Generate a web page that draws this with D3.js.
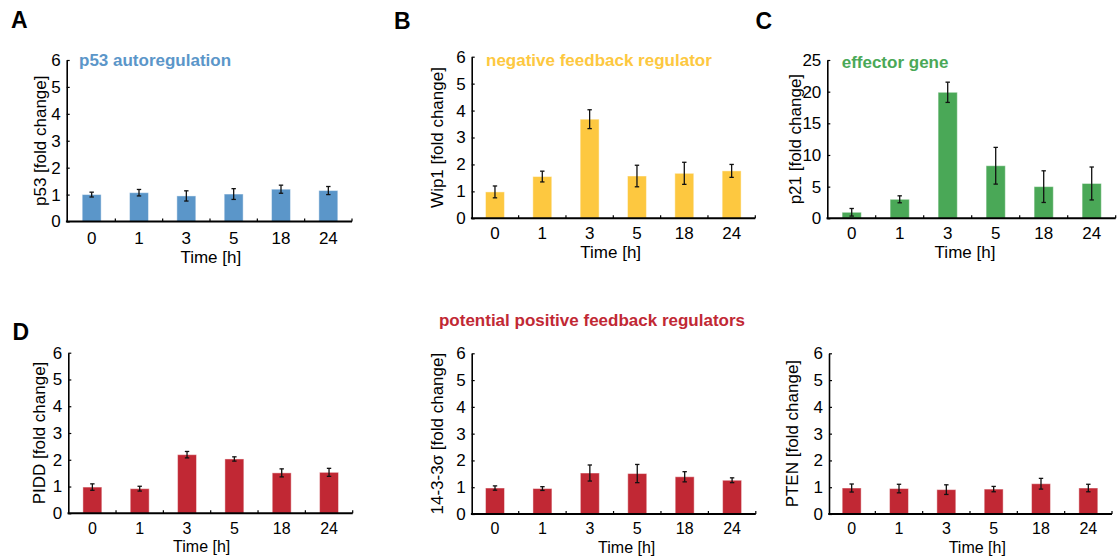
<!DOCTYPE html>
<html>
<head>
<meta charset="utf-8">
<script src="https://cdn.jsdelivr.net/npm/d3@7"></script>
<style>
  html, body { margin: 0; padding: 0; background: #fff; }
  svg { display: block; font-family: "Liberation Sans", Arial, Helvetica, sans-serif; }
</style>
</head>
<body>
<svg id="chart" width="1117" height="558"></svg>
<script>
// ---- data ----
const times = ["0", "1", "3", "5", "18", "24"];

const p53Mean = [1.0, 1.07, 0.95, 1.02, 1.2, 1.15];
const p53Err  = [0.09, 0.12, 0.19, 0.2, 0.15, 0.15];

const wip1Mean = [0.98, 1.55, 3.68, 1.57, 1.67, 1.76];
const wip1Err  = [0.22, 0.2, 0.35, 0.4, 0.41, 0.24];

const p21Mean = [0.95, 3.0, 19.9, 8.3, 5.0, 5.5];
const p21Err  = [0.6, 0.55, 1.6, 2.9, 2.5, 2.6];

const piddMean = [0.98, 0.92, 2.19, 2.03, 1.51, 1.53];
const piddErr  = [0.12, 0.09, 0.12, 0.08, 0.15, 0.15];

const sigmaMean = [0.97, 0.95, 1.53, 1.51, 1.39, 1.26];
const sigmaErr  = [0.08, 0.07, 0.3, 0.34, 0.19, 0.09];

const ptenMean = [0.97, 0.95, 0.91, 0.93, 1.13, 0.97];
const ptenErr  = [0.15, 0.16, 0.18, 0.1, 0.2, 0.14];

const yTicks6  = [0, 1, 2, 3, 4, 5, 6];
const yTicks25 = [0, 5, 10, 15, 20, 25];

const xTitle = "Time [h]";
const colors = { blue: "#5b96c9", yellow: "#fdc840", green: "#4aa857", red: "#c12834" };

// ---- layout ----
const panels = [
  { mean: p53Mean, err: p53Err, ylabel: "p53 [fold change]", ymax: 6, ticks: yTicks6, color: colors.blue,
    axisX: 66.7, x0: 68, x1: 352, yTop: 60, yBot: 221.5, ylabDx: -26, tickDy: 16.5, xTitleX: 210.8, xTitleDy: 36, xfs: 17 },
  { mean: wip1Mean, err: wip1Err, ylabel: "Wip1 [fold change]", ymax: 6, ticks: yTicks6, color: colors.yellow,
    axisX: 471.7, x0: 471.3, x1: 755.3, yTop: 56.7, yBot: 218.3, ylabDx: -34.4, tickDy: 15, xTitleX: 610.7, xTitleDy: 34.5, xfs: 17 },
  { mean: p21Mean, err: p21Err, ylabel: "p21 [fold change]", ymax: 25, ticks: yTicks25, color: colors.green,
    axisX: 827.3, x0: 827.7, x1: 1115.7, yTop: 60, yBot: 218.3, ylabDx: -32.3, tickDy: 15, xTitleX: 965, xTitleDy: 34.5, xfs: 17 },
  { mean: piddMean, err: piddErr, ylabel: "PIDD [fold change]", ymax: 6, ticks: yTicks6, color: colors.red,
    axisX: 68.3, x0: 68.7, x1: 352.7, yTop: 352.7, yBot: 513.3, ylabDx: -29.3, tickDy: 14.8, xTitleX: 201.7, xTitleDy: 33.5, xfs: 16 },
  { mean: sigmaMean, err: sigmaErr, ylabel: "14-3-3σ [fold change]", ymax: 6, ticks: yTicks6, color: colors.red,
    axisX: 471.7, x0: 471.3, x1: 755.8, yTop: 353.3, yBot: 514, ylabDx: -34.4, tickDy: 14.3, xTitleX: 626.7, xTitleDy: 33, xfs: 16 },
  { mean: ptenMean, err: ptenErr, ylabel: "PTEN [fold change]", ymax: 6, ticks: yTicks6, color: colors.red,
    axisX: 829, x0: 828, x1: 1112, yTop: 353.3, yBot: 514, ylabDx: -36.7, tickDy: 14.3, xTitleX: 977.3, xTitleDy: 33, xfs: 16 }
];

const titles = [
  { text: "p53 autoregulation", x: 79, y: 66, color: colors.blue, anchor: "start" },
  { text: "negative feedback regulator", x: 486, y: 66, color: colors.yellow, anchor: "start" },
  { text: "effector gene", x: 841.7, y: 67.5, color: colors.green, anchor: "start" },
  { text: "potential positive feedback regulators", x: 592, y: 326, color: colors.red, anchor: "middle" }
];
const letters = [
  { text: "A", x: 11, y: 28 }, { text: "B", x: 394, y: 28.5 },
  { text: "C", x: 755.5, y: 28.5 }, { text: "D", x: 12.5, y: 340 }
];

const FS = 17;
const svg = d3.select("#chart");

panels.forEach(p => {
  const data = times.map((t, i) => ({ t, m: p.mean[i], e: p.err[i] }));
  const x = d3.scaleBand().domain(times).range([p.x0, p.x1]).paddingInner(0.6).paddingOuter(0.3);
  const y = d3.scaleLinear().domain([0, p.ymax]).range([p.yBot, p.yTop]);
  const g = svg.append("g");

  // bars
  g.selectAll("rect.bar").data(data).join("rect")
    .attr("class", "bar")
    .attr("x", d => x(d.t))
    .attr("width", x.bandwidth())
    .attr("y", d => y(d.m))
    .attr("height", d => y(0) - y(d.m))
    .attr("fill", p.color)
    .attr("stroke", "#ffffff").attr("stroke-opacity", 0.45).attr("stroke-width", 1);

  // error bars
  const eb = g.selectAll("g.eb").data(data).join("g").attr("class", "eb");
  const cx = d => x(d.t) + x.bandwidth() / 2;
  eb.append("line").attr("x1", cx).attr("x2", cx)
    .attr("y1", d => y(d.m - d.e)).attr("y2", d => y(d.m + d.e))
    .attr("stroke", "#111").attr("stroke-width", 1.3);
  [-1, 1].forEach(s => {
    eb.append("line").attr("x1", d => cx(d) - 2.2).attr("x2", d => cx(d) + 2.2)
      .attr("y1", d => y(d.m + s * d.e)).attr("y2", d => y(d.m + s * d.e))
      .attr("stroke", "#111").attr("stroke-width", 1.3);
  });

  // y axis
  const ya = g.append("g").attr("transform", `translate(${p.axisX},0)`)
    .call(d3.axisLeft(y).tickValues(p.ticks).tickSizeInner(-3).tickSizeOuter(0).tickPadding(6).tickFormat(d3.format("d")));
  ya.select(".domain").attr("stroke", "#000").attr("stroke-width", 1.6);
  ya.selectAll(".tick line").attr("stroke", "#000").attr("stroke-width", 1.2);
  ya.selectAll(".tick text").attr("font-size", FS).attr("fill", "#000")
    .attr("font-family", "'Liberation Sans', Arial, sans-serif");

  // x axis line
  g.append("line").attr("x1", p.axisX - 0.8).attr("x2", p.x1)
    .attr("y1", p.yBot).attr("y2", p.yBot).attr("stroke", "#000").attr("stroke-width", 2);
  // boundary ticks (between categories)
  const step = x.step();
  const bounds = times.map(t => x(t) + x.bandwidth() / 2 + step / 2);
  g.selectAll("line.bt").data(bounds).join("line").attr("class", "bt")
    .attr("x1", d => d).attr("x2", d => d)
    .attr("y1", p.yBot).attr("y2", p.yBot - 3)
    .attr("stroke", "#000").attr("stroke-width", 1.2);

  // x tick labels
  const xa = g.append("g").attr("transform", `translate(0,${p.yBot})`)
    .call(d3.axisBottom(x).tickSize(0).tickPadding(0));
  xa.select(".domain").remove();
  xa.selectAll(".tick text").attr("font-size", p.xfs).attr("fill", "#000")
    .attr("dy", null).attr("y", p.tickDy).attr("dominant-baseline", "central")
    .attr("font-family", "'Liberation Sans', Arial, sans-serif");

  // x title
  g.append("text").attr("x", p.xTitleX).attr("y", p.yBot + p.xTitleDy)
    .attr("text-anchor", "middle").attr("dominant-baseline", "central")
    .attr("font-size", p.xfs).text(xTitle);

  // y title
  const cy = (p.yTop + p.yBot) / 2;
  g.append("text")
    .attr("transform", `translate(${p.axisX + p.ylabDx},${cy}) rotate(-90)`)
    .attr("text-anchor", "middle").attr("dominant-baseline", "central")
    .attr("font-size", FS).text(p.ylabel);
});

svg.selectAll("text.title").data(titles).join("text").attr("class", "title")
  .attr("x", d => d.x).attr("y", d => d.y).attr("text-anchor", d => d.anchor)
  .attr("fill", d => d.color).attr("font-weight", "bold").attr("font-size", 17)
  .text(d => d.text);

svg.selectAll("text.letter").data(letters).join("text").attr("class", "letter")
  .attr("x", d => d.x).attr("y", d => d.y)
  .attr("font-weight", "bold").attr("font-size", 23)
  .text(d => d.text);
</script>
</body>
</html>
